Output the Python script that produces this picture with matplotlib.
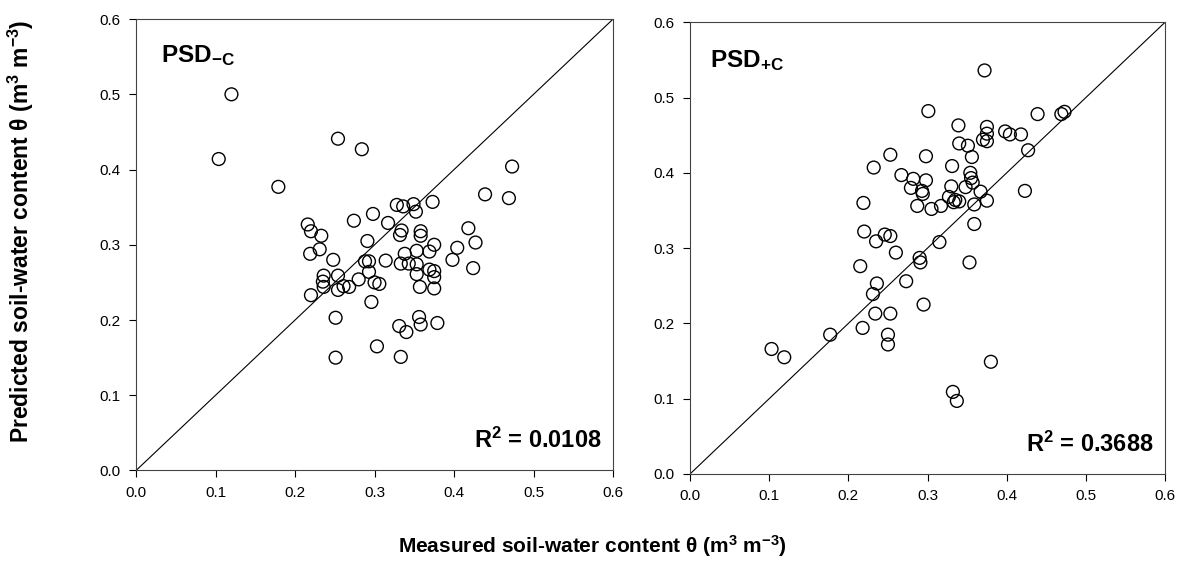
import matplotlib
matplotlib.use('Agg')
import matplotlib.pyplot as plt

plt.rcParams['font.family'] = ['Liberation Sans', 'DejaVu Sans']
plt.rcParams['mathtext.fontset'] = 'custom'
plt.rcParams['mathtext.rm'] = 'Liberation Sans'
plt.rcParams['mathtext.bf'] = 'Liberation Sans:bold'
plt.rcParams['mathtext.default'] = 'bf'

# PSD without clay correction
measured_nc = [0.439, 0.328, 0.336, 0.349, 0.352, 0.373, 0.298, 0.274, 0.317, 0.216,
               0.220, 0.233, 0.334, 0.332, 0.358, 0.358, 0.418, 0.427, 0.404, 0.398,
               0.424, 0.291, 0.231, 0.219, 0.248, 0.288, 0.293, 0.314, 0.338, 0.333,
               0.343, 0.353, 0.369, 0.375, 0.353, 0.369, 0.375, 0.375, 0.353, 0.357,
               0.375, 0.293, 0.300, 0.306, 0.280, 0.236, 0.236, 0.254, 0.261, 0.268,
               0.254, 0.220, 0.296, 0.251, 0.356, 0.358, 0.331, 0.340, 0.379, 0.303,
               0.251, 0.333, 0.235, 0.120, 0.104, 0.179, 0.254, 0.284, 0.473, 0.469]
predicted_nc = [0.367, 0.353, 0.351, 0.354, 0.344, 0.357, 0.341, 0.332, 0.329, 0.327,
                0.318, 0.312, 0.319, 0.313, 0.318, 0.312, 0.322, 0.303, 0.296, 0.280,
                0.269, 0.305, 0.294, 0.288, 0.280, 0.278, 0.278, 0.279, 0.288, 0.275,
                0.275, 0.292, 0.291, 0.300, 0.274, 0.267, 0.265, 0.257, 0.261, 0.244,
                0.242, 0.264, 0.250, 0.248, 0.254, 0.259, 0.244, 0.259, 0.245, 0.244,
                0.240, 0.233, 0.224, 0.203, 0.204, 0.194, 0.192, 0.184, 0.196, 0.165,
                0.150, 0.151, 0.251, 0.500, 0.414, 0.377, 0.441, 0.427, 0.404, 0.362]

# PSD with clay correction
measured_c = [0.103, 0.119, 0.177, 0.215, 0.218, 0.219, 0.220, 0.231, 0.232, 0.234,
              0.235, 0.236, 0.246, 0.250, 0.250, 0.253, 0.253, 0.253, 0.260, 0.267,
              0.273, 0.279, 0.282, 0.287, 0.290, 0.291, 0.293, 0.294, 0.295, 0.298,
              0.298, 0.301, 0.305, 0.315, 0.317, 0.327, 0.330, 0.331, 0.332, 0.333,
              0.335, 0.337, 0.339, 0.340, 0.340, 0.348, 0.351, 0.353, 0.354, 0.355,
              0.356, 0.357, 0.359, 0.359, 0.367, 0.370, 0.372, 0.375, 0.375, 0.375,
              0.375, 0.380, 0.398, 0.404, 0.418, 0.423, 0.427, 0.439, 0.469, 0.473]
predicted_c = [0.166, 0.155, 0.185, 0.276, 0.194, 0.360, 0.322, 0.239, 0.407, 0.213,
               0.309, 0.253, 0.318, 0.185, 0.172, 0.213, 0.316, 0.424, 0.294, 0.397,
               0.256, 0.380, 0.392, 0.356, 0.287, 0.281, 0.376, 0.372, 0.225, 0.390,
               0.422, 0.482, 0.352, 0.308, 0.356, 0.368, 0.382, 0.409, 0.109, 0.361,
               0.364, 0.097, 0.463, 0.362, 0.439, 0.381, 0.436, 0.281, 0.400, 0.393,
               0.421, 0.387, 0.358, 0.332, 0.375, 0.444, 0.536, 0.461, 0.452, 0.442,
               0.363, 0.149, 0.455, 0.451, 0.451, 0.376, 0.430, 0.478, 0.478, 0.481]

panels = [
    (measured_nc, predicted_nc, r'PSD$_{-C}$', r'R$^2$ = 0.0108',
     [0.1149, 0.186, 0.4029, 0.781], (0.052, 0.92)),
    (measured_c, predicted_c, r'PSD$_{+C}$', r'R$^2$ = 0.3688',
     [0.5828, 0.180, 0.4012, 0.7815], (0.043, 0.915)),
]
ticks = [0.0, 0.1, 0.2, 0.3, 0.4, 0.5, 0.6]

fig = plt.figure(figsize=(11.84, 5.78), dpi=100)

for xs, ys, name, r2, rect, name_pos in panels:
    ax = fig.add_axes(rect)
    ax.plot([0, 0.6], [0, 0.6], color='black', lw=0.8, zorder=1)
    ax.scatter(xs, ys, s=85, facecolors='none', edgecolors='black', linewidths=1.0, zorder=2)
    ax.set_xlim(0, 0.6)
    ax.set_ylim(0, 0.6)
    ax.set_xticks(ticks)
    ax.set_yticks(ticks)
    ax.set_xticklabels([f'{t:.1f}' for t in ticks])
    ax.set_yticklabels([f'{t:.1f}' for t in ticks])
    ax.tick_params(direction='out', length=5, width=0.8, labelsize=11, pad=6)
    for sp in ax.spines.values():
        sp.set_linewidth(0.8)
        sp.set_color('#444444')
    ax.text(name_pos[0], name_pos[1], name, transform=ax.transAxes, fontsize=17.5,
            fontweight='bold', ha='left', va='center')
    ax.text(0.975, 0.038, r2, transform=ax.transAxes, fontsize=17, fontweight='bold',
            ha='right', va='bottom')

fig.text(0.5, 0.055, r'Measured soil-water content $\theta$ (m$^3$ m$^{-3}$)',
         ha='center', va='center', fontsize=15, fontweight='bold')
fig.text(0.018, 0.6, r'Predicted soil-water content $\theta$ (m$^3$ m$^{-3}$)',
         ha='center', va='center', rotation=90, fontsize=16.5, fontweight='bold')

fig.savefig('out.png', dpi=100)
